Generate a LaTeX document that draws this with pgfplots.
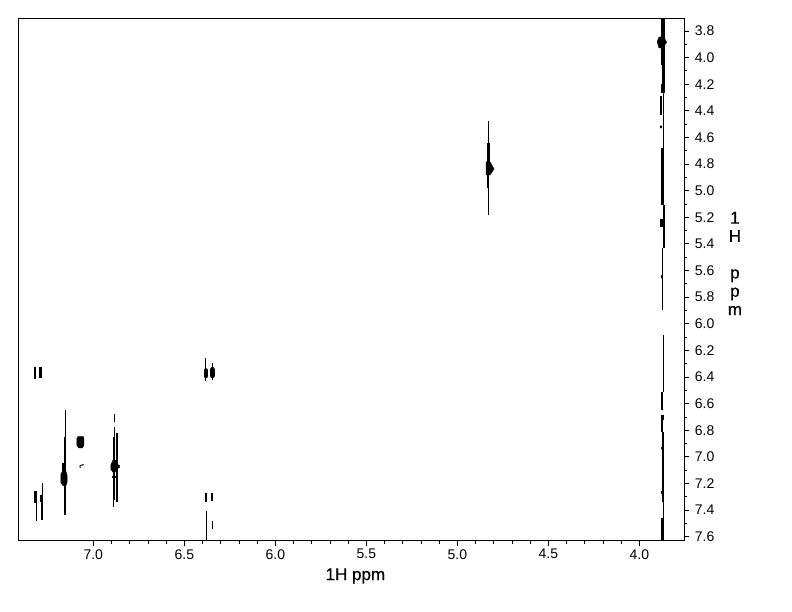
\documentclass[border=0pt]{standalone}
\usepackage{fontspec}
\setmainfont{Liberation Sans}
\newfontfamily\labelfont[FakeBold=0.6]{Liberation Sans}
\usepackage{pgfplots}
\pgfplotsset{compat=1.18}
% line width, x, y from, y to
\newcommand{\seg}[4]{\addplot[black,line width=#1pt,forget plot] coordinates {(#2,#3)(#2,#4)};}
\newcommand{\rseg}[4]{\addplot[black,line width=#1pt,line cap=round,forget plot] coordinates {(#2,#3)(#2,#4)};}
\begin{document}
\begin{tikzpicture}[x=1pt,y=1pt]
\useasboundingbox[fill=white] (-18.5pt,-71.3pt) rectangle (773.5pt,540.7pt);
\begin{axis}[
  at={(0pt,0pt)},anchor=south west,
  scale only axis,width=665.8pt,height=522.4pt,
  x dir=reverse,y dir=reverse,
  xmin=3.753,xmax=7.411,ymin=3.705,ymax=7.630,
  axis line style={line width=1pt},
  tick align=outside,xtick pos=bottom,ytick pos=right,
  xtick={4,4.5,5,5.5,6,6.5,7},
  minor x tick num=4,
  ytick={3.8,4.0,4.2,4.4,4.6,4.8,5.0,5.2,5.4,5.6,5.8,6.0,6.2,6.4,6.6,6.8,7.0,7.2,7.4,7.6},
  minor y tick num=1,
  major tick length=5pt,minor tick length=3pt,
  tick style={black,line width=0.8pt},
  /pgf/number format/assume math mode=true,
  /pgf/number format/fixed,/pgf/number format/fixed zerofill,/pgf/number format/precision=1,
  tick label style={font=\fontsize{14}{14}\selectfont},
  yticklabel style={xshift=2pt},
  xlabel={1H ppm},
  xlabel style={at={(axis description cs:0.506,-0.0676)},anchor=center,font=\labelfont\fontsize{17}{17}\selectfont},
  ylabel={1\\H\\ \\p\\p\\m},
  ylabel style={at={(axis description cs:1.076,0.5306)},anchor=center,rotate=-90,align=center,font=\labelfont\fontsize{17}{18.3}\selectfont},
]
% diagonal at 3.87, top section
\seg{3.7}{3.870}{3.705}{4.055}
\seg{2.7}{3.867}{4.055}{4.266}
\seg{1.3}{3.868}{4.266}{4.679}
\seg{1.0}{3.881}{4.198}{4.266}
\seg{1.5}{3.881}{4.288}{4.431}
\rseg{1.5}{3.881}{4.515}{4.527}
\seg{2.7}{3.871}{4.679}{5.107}
\seg{2.3}{3.864}{5.107}{5.430}
\seg{2.5}{3.879}{5.215}{5.270}
\seg{1.0}{3.874}{5.430}{5.896}
\rseg{1.5}{3.879}{5.640}{5.655}
\addplot[black,fill=black,forget plot] coordinates {(3.902,3.880)(3.893,3.848)(3.875,3.842)(3.860,3.860)(3.850,3.885)(3.860,3.905)(3.875,3.932)(3.893,3.925)(3.902,3.880)};
% diagonal at 3.87, bottom section
\seg{1.0}{3.868}{6.084}{6.512}
\seg{2.0}{3.873}{6.512}{6.647}
\seg{3.0}{3.875}{6.685}{6.723}
\seg{2.0}{3.873}{6.723}{6.813}
\seg{1.6}{3.869}{6.813}{7.339}
\rseg{1.5}{3.875}{6.930}{6.940}
\rseg{1.5}{3.875}{7.260}{7.275}
\seg{1.0}{3.868}{7.339}{7.459}
\seg{2.4}{3.873}{7.459}{7.630}
% peak at 4.83
\seg{1.0}{4.830}{4.476}{5.182}
\seg{1.5}{4.830}{4.590}{4.641}
\seg{3.5}{4.830}{4.641}{4.784}
\seg{1.7}{4.831}{4.882}{4.980}
\addplot[black,fill=black,forget plot] coordinates {(4.842,4.784)(4.820,4.784)(4.798,4.837)(4.820,4.882)(4.842,4.882)(4.842,4.784)};
% cross peaks, row 6.37
\seg{2.0}{7.322}{6.325}{6.412}
\seg{2.4}{7.289}{6.325}{6.407}
\seg{1.0}{6.381}{6.257}{6.427}
\rseg{4.8}{6.381}{6.352}{6.392}
\seg{1.0}{6.346}{6.292}{6.422}
\rseg{5.6}{6.346}{6.345}{6.388}
% lower doublets near 6.38
\seg{2.0}{6.382}{7.269}{7.336}
\seg{1.6}{6.349}{7.271}{7.330}
\seg{1.0}{6.379}{7.406}{7.624}
\seg{1.0}{6.346}{7.481}{7.544}
% 7.32 / 7.28
\seg{1.0}{7.313}{7.271}{7.479}
\seg{3.0}{7.319}{7.254}{7.349}
\seg{1.0}{7.280}{7.198}{7.324}
\seg{1.8}{7.280}{7.324}{7.474}
\seg{3.0}{7.287}{7.286}{7.336}
% 7.16
\seg{1.0}{7.154}{6.647}{6.848}
\seg{2.0}{7.157}{6.848}{7.437}
\seg{3.0}{7.161}{7.043}{7.121}
\addplot[black,fill=black,forget plot] coordinates {(7.178,7.130)(7.170,7.110)(7.150,7.110)(7.144,7.140)(7.144,7.190)(7.150,7.215)(7.165,7.219)(7.178,7.195)(7.178,7.130)};
% 7.07
\addplot[black,fill=black,forget plot] coordinates {(7.090,6.860)(7.085,6.848)(7.055,6.848)(7.052,6.860)(7.052,6.915)(7.060,6.933)(7.080,6.933)(7.090,6.915)(7.090,6.860)};
\addplot[black,line width=1pt,forget plot] coordinates {(7.072,7.083)(7.072,7.065)(7.053,7.058)};
% 6.88
\seg{0.9}{6.885}{6.678}{6.735}
\seg{1.0}{6.885}{6.773}{6.848}
\seg{2.0}{6.886}{6.848}{7.324}
\seg{1.0}{6.890}{7.324}{7.379}
\seg{1.6}{6.870}{6.823}{7.336}
\addplot[black,fill=black,forget plot] coordinates {(6.904,7.060)(6.890,7.020)(6.872,7.028)(6.868,7.058)(6.856,7.063)(6.856,7.082)(6.868,7.087)(6.872,7.108)(6.890,7.120)(6.904,7.092)(6.904,7.060)};
\addplot[black,line width=1.2pt,forget plot] coordinates {(6.897,7.151)(6.870,7.151)};
\end{axis}
\end{tikzpicture}
\end{document}
